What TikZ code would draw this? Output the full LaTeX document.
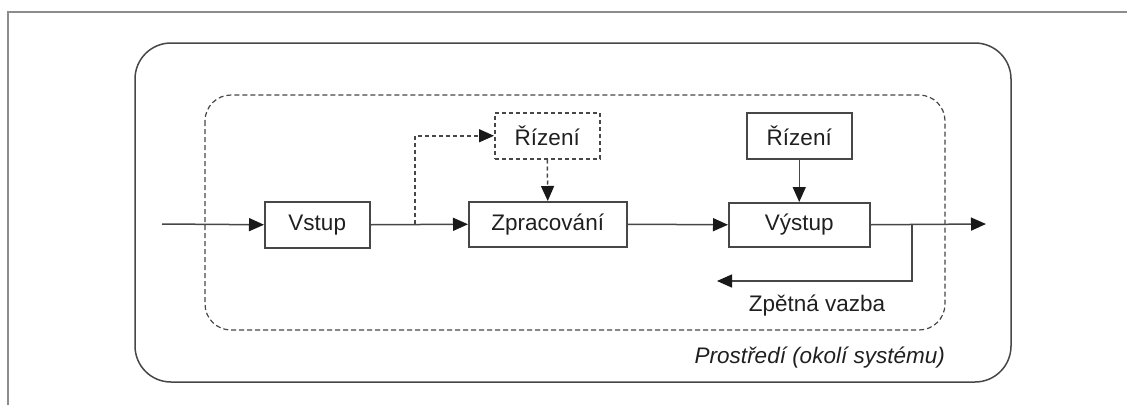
\documentclass[tikz,border=0pt]{standalone}
\usepackage{fontspec}
\setmainfont{Liberation Sans}
\usetikzlibrary{arrows.meta}
\begin{document}
\begin{tikzpicture}[x=1pt,y=1pt,
  line/.style={draw=black!72,line width=1.5pt},
  flow/.style={line,-{Triangle[length=15pt,width=13pt,color=black!90]}},
  dflow/.style={flow,dash pattern=on 4pt off 3pt},
  blk/.style={line,rectangle,inner sep=0pt,anchor=north west,
    font=\fontsize{22.5}{26}\selectfont,text=black!88},
  lbl/.style={font=\fontsize{22.5}{26}\selectfont,text=black!88,inner sep=0pt}]
\useasboundingbox (0,-405) rectangle (1127,0);
% frame around the whole figure
\draw[draw=black!45,line width=1.5pt] (8,-405) -- (8,-12) -- (1127,-12);
% environment and system boundaries
\draw[line,rounded corners=36pt] (135,-43) rectangle (1011,-382);
\draw[line,line width=1.2pt,dash pattern=on 5pt off 3pt,rounded corners=26pt] (205,-95) rectangle (945,-330);
% blocks
\node[blk,minimum width=105pt,minimum height=46pt] (vstup) at (264,-201) {Vstup};
\node[blk,minimum width=158pt,minimum height=45pt] (zprac) at (468,-201) {Zpracování};
\node[blk,minimum width=141pt,minimum height=44pt] (vystup) at (728,-202) {Výstup};
\node[blk,minimum width=105pt,minimum height=46pt,dash pattern=on 4pt off 3pt] (rizA) at (494,-112) {Řízení};
\node[blk,minimum width=105pt,minimum height=46pt] (rizB) at (746,-112) {Řízení};
% coordinates for the free ends and branch points
\coordinate (in) at (162,-224);
\coordinate (out) at (986,-224);
\coordinate (br) at (415,-224);
\coordinate (fb) at (912,-224);
\coordinate (fbend) at (717,-281);
% main flow
\draw[flow] (in) -- (vstup.west);
\draw[flow] (vstup.east) -- (zprac.west);
\draw[flow] (zprac.east) -- (vystup.west);
\draw[flow] (vystup.east) -- (out);
% control
\draw[dflow] (br) |- (rizA.west);
\draw[dflow] (rizA.south) -- (zprac.north);
\draw[flow] (rizB.south) -- (vystup.north -| rizB.south);
% feedback
\draw[flow] (fb) |- (fbend);
\node[lbl] (zv) at (817,-306) {Zpětná vazba};
\node[lbl,anchor=east,font=\fontsize{22.5}{26}\selectfont\itshape] (env) at (945,-358) {Prostředí (okolí systému)};
\end{tikzpicture}
\end{document}
